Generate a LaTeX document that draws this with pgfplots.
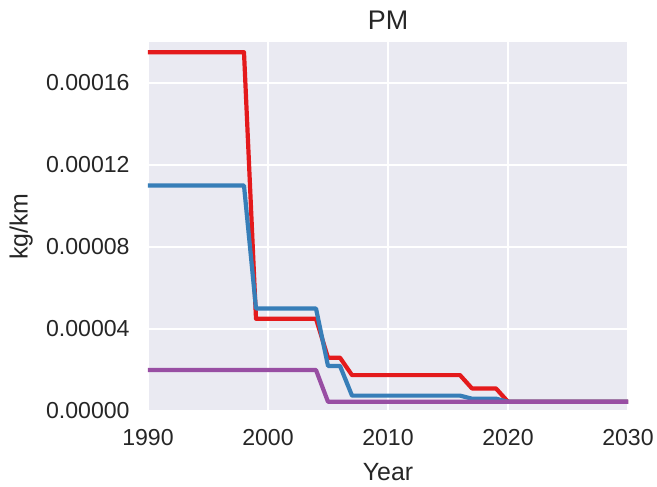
\documentclass[border=0pt]{standalone}
\usepackage{pgfplots}
\pgfplotsset{compat=1.18}
\usepackage{fontspec}
\setmainfont{Liberation Sans}

\definecolor{bgpanel}{HTML}{EAEAF2}
\definecolor{setred}{HTML}{E41A1C}
\definecolor{setblue}{HTML}{377EB8}
\definecolor{setpurple}{HTML}{984EA3}
\definecolor{inkgrey}{HTML}{262626}

\begin{document}
\begin{tikzpicture}
\begin{axis}[
  name=pm,
  scale only axis,
  width=240bp, height=184.5bp,
  xmin=1990, xmax=2030,
  ymin=0, ymax=0.00018,
  xtick={1990,2000,2010,2020,2030},
  xticklabels={1990,2000,2010,2020,2030},
  ytick={0,0.00004,0.00008,0.00012,0.00016},
  yticklabels={0.00000,0.00004,0.00008,0.00012,0.00016},
  scaled y ticks=false,
  axis background/.style={fill=bgpanel},
  axis line style={draw=none},
  major tick length=0pt,
  grid=major,
  major grid style={white, line width=1bp},
  ticklabel style={font=\fontsize{11.6}{13}\selectfont, text=inkgrey, inner sep=0pt},
  xticklabel style={anchor=center, yshift=-13.5bp},
  yticklabel style={anchor=east, xshift=-9bp},
  xlabel={Year},
  ylabel={kg/km},
  label style={font=\fontsize{12.5}{14}\selectfont, text=inkgrey},
  xlabel style={at={(axis description cs:0.5,-0.1653)}, anchor=center},
  ylabel style={at={(axis description cs:-0.2642,0.5)}, anchor=center},
  title={PM},
  % the title is raised a further 6pt by pgfplots itself
  title style={font=\fontsize{13.5}{15}\selectfont, text=inkgrey,
    at={(axis description cs:0.5,1.0271)}, anchor=center},
  every axis plot/.append style={line width=2.1bp, line join=round},
  clip=false,
]
% PM emission factor by model year, three vehicle classes
\addplot[setred] coordinates {
  (1990,0.000175) (1998,0.000175) (1999,0.000045) (2004,0.000045)
  (2005,0.000026) (2006,0.000026) (2007,0.0000175) (2016,0.0000175)
  (2017,0.000011) (2019,0.000011) (2020,0.0000045) (2030,0.0000045)
};
\addplot[setblue] coordinates {
  (1990,0.00011) (1998,0.00011) (1999,0.00005) (2004,0.00005)
  (2005,0.000022) (2006,0.000022) (2007,0.0000075) (2016,0.0000075)
  (2017,0.000006) (2019,0.000006) (2020,0.0000045) (2030,0.0000045)
};
\addplot[setpurple] coordinates {
  (1990,0.00002) (2004,0.00002) (2005,0.0000045) (2030,0.0000045)
};
\end{axis}
% white margin around the figure
\pgfresetboundingbox
\path ([xshift=-74bp,yshift=-38bp]pm.south west)
  rectangle ([xshift=14.5bp,yshift=21bp]pm.north east);
\end{tikzpicture}
\end{document}
